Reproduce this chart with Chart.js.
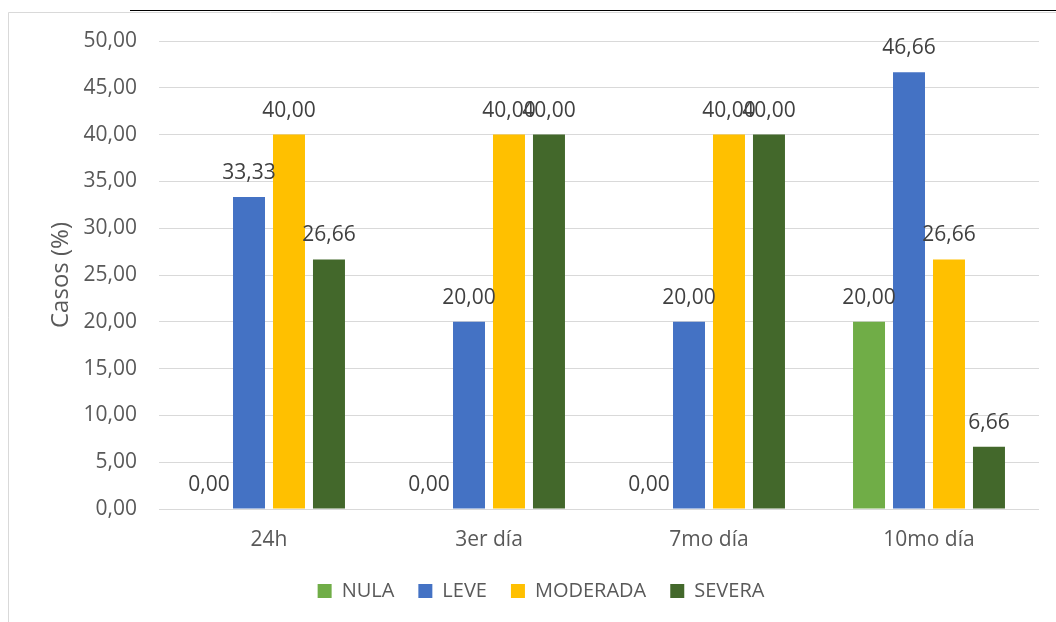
<!DOCTYPE html>
<html>
<head>
<meta charset="utf-8">
<script src="https://cdn.jsdelivr.net/npm/chart.js@4.4.0/dist/chart.umd.min.js"></script>
<style>
  html, body { margin: 0; padding: 0; background: #ffffff; }
  #wrap { width: 1056px; height: 622px; position: relative; }
</style>
</head>
<body>
<div id="wrap"><canvas id="canvas-barchart"></canvas></div>
<script>
// Porcentaje de casos por intensidad y momento de control
const categories = ['24h', '3er día', '7mo día', '10mo día'];
const nula = [0, 0, 0, 20];
const leve = [33.33, 20, 20, 46.66];
const moderada = [40, 40, 40, 26.66];
const severa = [26.66, 40, 40, 6.66];
const yMin = 0;
const yMax = 50;
const yStep = 5;

const fontFamily = '"Open Sans", "Noto Sans", sans-serif';

function formatComma(value) {
    return Number(value).toFixed(2).replace('.', ',');
}

// Marco gris y línea superior
const framePlugin = {
    id: 'frame',
    beforeDraw(chart) {
        const c = chart.ctx;
        c.save();
        c.fillStyle = '#ffffff';
        c.fillRect(0, 0, chart.width, chart.height);
        c.strokeStyle = '#d9d9d9';
        c.lineWidth = 1;
        c.beginPath();
        c.moveTo(8.5, chart.height);
        c.lineTo(8.5, 12.5);
        c.lineTo(chart.width, 12.5);
        c.stroke();
        c.strokeStyle = '#000000';
        c.beginPath();
        c.moveTo(130, 10.5);
        c.lineTo(chart.width, 10.5);
        c.stroke();
        c.restore();
    }
};

// Etiquetas de valor encima de cada barra
const valueLabels = {
    id: 'valueLabels',
    afterDatasetsDraw(chart) {
        const c = chart.ctx;
        c.save();
        c.font = '21px ' + fontFamily;
        c.fillStyle = '#404040';
        c.textAlign = 'center';
        c.textBaseline = 'alphabetic';
        chart.data.datasets.forEach((ds, i) => {
            const meta = chart.getDatasetMeta(i);
            meta.data.forEach((bar, j) => {
                c.fillText(formatComma(ds.data[j]), bar.x, bar.y - 18);
            });
        });
        c.restore();
    }
};

const ctx = document.getElementById('canvas-barchart').getContext('2d');

new Chart(ctx, {
    type: 'bar',
    data: {
        labels: categories,
        datasets: [
            { label: 'NULA', data: nula, backgroundColor: '#70ad47' },
            { label: 'LEVE', data: leve, backgroundColor: '#4472c4' },
            { label: 'MODERADA', data: moderada, backgroundColor: '#ffc000' },
            { label: 'SEVERA', data: severa, backgroundColor: '#43682b' }
        ]
    },
    options: {
        responsive: true,
        maintainAspectRatio: false,
        animation: false,
        devicePixelRatio: 1,
        categoryPercentage: 0.727,
        barPercentage: 0.8,
        layout: {
            padding: { left: 43, right: 17, top: 41, bottom: 11 }
        },
        scales: {
            x: {
                grid: { display: false },
                border: { display: false },
                ticks: {
                    color: '#595959',
                    font: { family: fontFamily, size: 21 },
                    padding: 10
                },
                afterFit(scale) { scale.height = 48; }
            },
            y: {
                min: yMin,
                max: yMax,
                grid: { color: '#d9d9d9', lineWidth: 1, drawTicks: false },
                border: { display: false },
                ticks: {
                    stepSize: yStep,
                    color: '#595959',
                    font: { family: fontFamily, size: 21 },
                    padding: 22,
                    callback: (v) => formatComma(v)
                },
                title: {
                    display: true,
                    text: 'Casos (%)',
                    color: '#595959',
                    font: { family: fontFamily, size: 24 }
                },
                afterFit(scale) { scale.width = 116; }
            }
        },
        plugins: {
            legend: {
                position: 'bottom',
                labels: {
                    boxWidth: 14,
                    boxHeight: 14,
                    padding: 24,
                    color: '#595959',
                    font: { family: fontFamily, size: 20 }
                }
            },
            tooltip: { enabled: false }
        }
    },
    plugins: [framePlugin, valueLabels]
});
</script>
</body>
</html>
